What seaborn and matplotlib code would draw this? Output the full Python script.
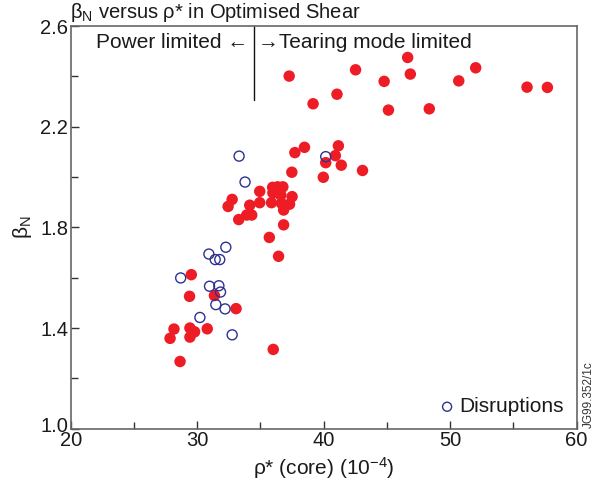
import matplotlib
matplotlib.use("Agg")
import matplotlib.pyplot as plt
import matplotlib.transforms as mtransforms
import seaborn as sns
import pandas as pd
from matplotlib.ticker import MultipleLocator

# Data
red_x = [38.48, 37.72, 41.16, 40.92, 40.16, 41.39, 39.97, 37.48, 34.94, 32.76,
         32.44, 34.15, 34.94, 33.28, 33.91, 34.31, 35.96, 36.35, 36.77, 35.98,
         36.61, 37.50, 35.87, 36.67, 37.30, 36.83, 36.83, 35.70, 36.43, 29.53,
         29.39, 31.36, 33.07, 28.16, 29.42, 29.79, 30.79, 27.85, 29.42, 36.01,
         28.64, 37.27, 42.52, 46.64, 46.85, 44.78, 41.05, 39.16, 45.12, 48.35,
         50.68, 52.02, 56.08, 57.69, 43.07]
red_y = [2.118, 2.097, 2.124, 2.085, 2.057, 2.047, 1.999, 2.019, 1.943, 1.911,
         1.883, 1.888, 1.898, 1.831, 1.849, 1.849, 1.959, 1.961, 1.961, 1.937,
         1.928, 1.922, 1.898, 1.895, 1.892, 1.869, 1.810, 1.760, 1.685, 1.612,
         1.526, 1.529, 1.477, 1.396, 1.400, 1.385, 1.397, 1.359, 1.364, 1.315,
         1.267, 2.401, 2.426, 2.475, 2.409, 2.380, 2.329, 2.291, 2.266, 2.271,
         2.382, 2.434, 2.357, 2.356, 2.026]

dis_x = [33.31, 33.78, 40.16, 32.26, 30.92, 31.42, 31.78, 28.69, 30.97, 31.71,
         31.84, 31.47, 32.20, 30.21, 32.76]
dis_y = [2.083, 1.980, 2.081, 1.721, 1.694, 1.672, 1.672, 1.599, 1.566, 1.568,
         1.543, 1.493, 1.476, 1.442, 1.373]

xticks = [20, 30, 40, 50, 60]
yticks = [1.0, 1.4, 1.8, 2.2, 2.6]
boundary_x = 34.49
boundary_top = 2.307

sns.set_theme(style="white")
plt.rcParams['font.family'] = ['Liberation Sans', 'DejaVu Sans']
plt.rcParams['mathtext.fontset'] = 'custom'
plt.rcParams['mathtext.rm'] = 'Liberation Sans'
plt.rcParams['mathtext.it'] = 'Liberation Sans:italic'
plt.rcParams['xtick.direction'] = 'in'
plt.rcParams['ytick.direction'] = 'in'

FS = 15
TXT = '#1a1a1a'

fig = plt.figure(figsize=(6, 4.87), dpi=100)
ax = fig.add_axes([0.118, 0.1197, 0.843, 0.8269])

red_df = pd.DataFrame({"x": red_x, "y": red_y})
dis_df = pd.DataFrame({"x": dis_x, "y": dis_y})

sns.scatterplot(data=red_df, x="x", y="y", ax=ax, color="#ee1c25", s=68,
                edgecolor="none", legend=False, zorder=2)
sns.scatterplot(data=dis_df, x="x", y="y", ax=ax, facecolor="none",
                edgecolor="#2e3192", linewidth=1.0, s=52, label="Disruptions",
                zorder=3)

ax.set_xlim(20, 60)
ax.set_ylim(1.0, 2.6)
ax.set_xticks(xticks)
ax.set_yticks(yticks)
ax.set_xticklabels([str(v) for v in xticks])
ax.set_yticklabels([f"{v:.1f}" for v in yticks])
ax.xaxis.set_minor_locator(MultipleLocator(5))
ax.yaxis.set_minor_locator(MultipleLocator(0.2))
ax.tick_params(which='major', direction='in', length=6, width=1, color='#333333',
               labelsize=14.5, labelcolor=TXT, pad=2, bottom=True, left=True)
ax.tick_params(which='minor', direction='in', length=5, width=1, color='#333333',
               bottom=True, left=True)
for sp in ax.spines.values():
    sp.set_color('#666666')
    sp.set_linewidth(1.2)

# the bottom label sits slightly raised in the reference
ylabels = ax.get_yticklabels()
ylabels[0].set_transform(ylabels[0].get_transform() +
                         mtransforms.ScaledTranslation(0, 4 / 100, fig.dpi_scale_trans))

ax.set_xlabel(r"ρ* (core) (10$^{-4}$)", fontsize=FS, color=TXT, labelpad=3)
ax.set_ylabel(r"$\mathregular{\beta_N}$", fontsize=FS, color=TXT, labelpad=4)

ax.plot([boundary_x, boundary_x], [2.6, boundary_top], color='#111111', lw=1.0)
ax.text(boundary_x - 0.45, 2.535, "Power limited \u2190", ha='right', va='center',
        fontsize=FS, color=TXT)
ax.text(boundary_x + 0.3, 2.535, "\u2192Tearing mode limited", ha='left', va='center',
        fontsize=FS, color=TXT)

leg = ax.legend(loc='lower right', frameon=False, fontsize=FS, handletextpad=0.2,
                handlelength=0.8, borderaxespad=0.2, markerscale=0.9)
for t in leg.get_texts():
    t.set_color(TXT)

fig.text(70 / 600, 1 - 18 / 487, r"$\mathregular{\beta_N}$ versus ρ* in Optimised Shear",
         fontsize=14.5, color=TXT, ha='left', va='baseline')
fig.text(589 / 600, 1 - 428 / 487, "JG99.352/1c", rotation=90, fontsize=8.5,
         color='#333333', ha='center', va='bottom')

fig.savefig("out.png", dpi=100)
